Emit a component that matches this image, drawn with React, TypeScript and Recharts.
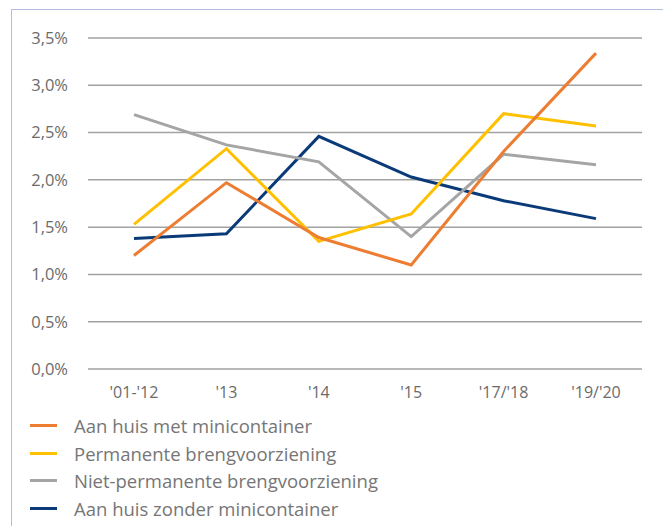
import React from 'react';
import { LineChart, Line, XAxis, YAxis, CartesianGrid, Legend } from 'recharts';

const categories = ["'01-'12", "'13", "'14", "'15", "'17/'18", "'19/'20"];
const aanHuisMet = [1.2, 1.97, 1.39, 1.1, 2.3, 3.34];
const permanente = [1.53, 2.33, 1.35, 1.64, 2.7, 2.57];
const nietPermanente = [2.69, 2.37, 2.19, 1.4, 2.27, 2.16];
const aanHuisZonder = [1.38, 1.43, 2.46, 2.03, 1.78, 1.59];
const yTicks = [0, 0.5, 1, 1.5, 2, 2.5, 3, 3.5];

const series = [
  { key: 'met', name: 'Aan huis met minicontainer', color: '#ED7D31', values: aanHuisMet },
  { key: 'perm', name: 'Permanente brengvoorziening', color: '#FFC000', values: permanente },
  { key: 'niet', name: 'Niet-permanente brengvoorziening', color: '#A5A5A5', values: nietPermanente },
  { key: 'zonder', name: 'Aan huis zonder minicontainer', color: '#0A3B78', values: aanHuisZonder },
];

const data = categories.map((c, i) => {
  const row: Record<string, string | number> = { cat: c };
  series.forEach((s) => {
    row[s.key] = s.values[i];
  });
  return row;
});

const fmt = (v: number) => v.toFixed(1).replace('.', ',') + '%';

const LegendContent = () => (
  <div style={{ fontFamily: '"Open Sans", sans-serif', fontSize: 18.5, color: '#767676' }}>
    {series.map((s) => (
      <div key={s.key} style={{ height: 27.6, display: 'flex', alignItems: 'center' }}>
        <span style={{ display: 'inline-block', marginLeft: 30, width: 27, height: 3, background: s.color }} />
        <span style={{ marginLeft: 17, whiteSpace: 'nowrap' }}>{s.name}</span>
      </div>
    ))}
  </div>
);

export default function App() {
  const drawOrder = [...series].reverse();
  return (
    <div style={{ position: 'absolute', left: 0, top: 0, width: 663, height: 526, background: '#fff' }}>
      <div
        style={{
          position: 'absolute',
          left: 11,
          top: 9,
          width: 652,
          height: 517,
          borderLeft: '1.5px solid #b3bcdc',
          borderTop: '1.5px solid #b3bcdc',
          boxSizing: 'border-box',
        }}
      />
      <div style={{ position: 'absolute', left: 0, top: 0 }}>
        <LineChart
          width={663}
          height={526}
          data={data}
          margin={{ top: 38, right: 21, bottom: 127, left: 0 }}
          style={{ fontFamily: '"Open Sans", sans-serif' }}
        >
          <CartesianGrid vertical={false} stroke="#a2a2a2" strokeWidth={1.5} />
          <XAxis
            dataKey="cat"
            axisLine={false}
            tickLine={false}
            tickMargin={12}
            height={30}
            padding={{ left: 46, right: 46 }}
            tick={{ fill: '#6b6b6b', fontSize: 16 }}
            interval={0}
          />
          <YAxis
            domain={[0, 3.5]}
            ticks={yTicks}
            width={88}
            axisLine={false}
            tickLine={false}
            tickMargin={14}
            tickFormatter={fmt}
            tick={{ fill: '#6b6b6b', fontSize: 16.5 }}
          />
          {drawOrder.map((s) => (
            <Line
              key={s.key}
              type="linear"
              dataKey={s.key}
              name={s.name}
              stroke={s.color}
              strokeWidth={3}
              dot={false}
              activeDot={false}
              isAnimationActive={false}
            />
          ))}
          <Legend
            layout="horizontal"
            verticalAlign="middle"
            align="center"
            content={() => <LegendContent />}
            wrapperStyle={{ left: 0, top: 412, width: 420 }}
          />
        </LineChart>
      </div>
    </div>
  );
}
